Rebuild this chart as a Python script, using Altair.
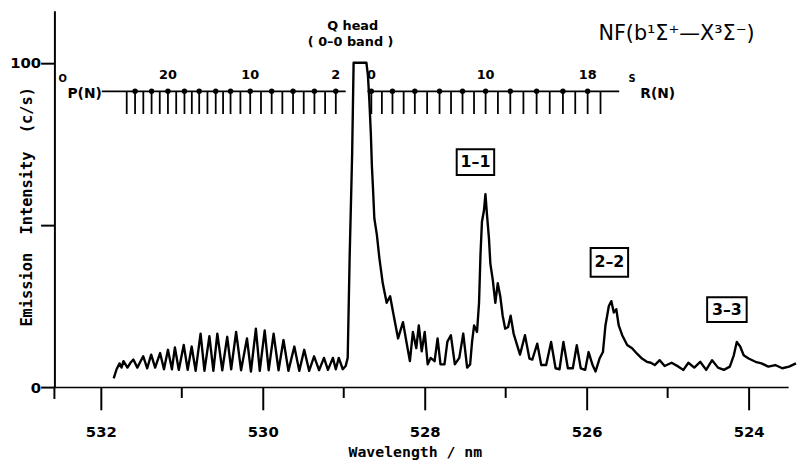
import altair as alt
import pandas as pd

# ---------------- spectrum (wavelength nm, intensity c/s) --------------
seg1_wl = [531.841, 531.805, 531.768, 531.744, 531.720, 531.671, 531.634, 531.598, 531.549, 531.512,
           531.476, 531.427, 531.378, 531.329, 531.268, 531.220, 531.171, 531.122, 531.085, 531.037,
           530.976, 530.927, 530.878, 530.829, 530.768, 530.720, 530.659, 530.610, 530.561, 530.500,
           530.439, 530.390, 530.329, 530.268, 530.195, 530.146, 530.085, 530.037, 529.976, 529.927,
           529.866, 529.805, 529.744, 529.683, 529.610, 529.549, 529.488, 529.427, 529.366, 529.305,
           529.244, 529.195, 529.134, 529.098, 529.061, 529.012, 528.976]
seg1_int = [2.7, 5.5, 7.3, 6.0, 8.0, 6.0, 7.5, 8.5, 6.0, 7.8,
            9.5, 5.8, 10.0, 6.0, 10.5, 5.5, 11.5, 5.5, 12.2, 5.3,
            13.0, 5.3, 12.5, 5.0, 16.5, 5.0, 15.7, 5.0, 16.5, 5.2,
            15.5, 5.5, 17.0, 5.2, 15.0, 4.8, 18.0, 5.0, 17.5, 5.2,
            16.5, 5.2, 14.5, 5.0, 12.5, 5.0, 11.5, 5.0, 9.5, 5.2,
            9.0, 5.3, 9.0, 5.5, 9.0, 5.5, 6.5]

seg2_wl = [528.951, 528.927, 528.896, 528.878, 528.720, 528.701, 528.683, 528.665, 528.652, 528.640,
           528.622, 528.591, 528.561, 528.518, 528.470, 528.427, 528.390, 528.329, 528.268, 528.226,
           528.183, 528.146, 528.104, 528.073, 528.037, 528.000, 527.963, 527.927, 527.878, 527.841,
           527.805, 527.756, 527.720, 527.677, 527.628, 527.573, 527.524, 527.476, 527.439, 527.415]
seg2_int = [9.0, 40, 72, 100, 100, 96, 88, 78, 68, 62,
            52, 47, 40, 32, 26, 28, 23, 15, 20, 14,
            8, 17, 12, 19, 11, 17, 7, 9, 8, 15,
            7, 7, 14, 16, 7, 9, 16.5, 6, 7, 14]

seg3_wl = [527.390, 527.354, 527.329, 527.311, 527.293, 527.268, 527.250, 527.232, 527.207, 527.189,
           527.159, 527.128, 527.098, 527.067, 527.037, 527.006, 526.970, 526.939, 526.902, 526.860,
           526.823, 526.762, 526.707, 526.671, 526.610, 526.561, 526.500, 526.439, 526.384, 526.335,
           526.287, 526.232, 526.171, 526.122, 526.073, 526.018, 525.976, 525.927, 525.890, 525.841]
seg3_int = [19, 17, 26, 41, 51, 54.5, 59.5, 53.5, 46, 38,
            33, 26, 32, 28, 22, 18, 18.5, 22, 16.5, 13,
            10, 16, 8.8, 8.5, 13.4, 6.8, 6.8, 13.9, 5.8, 5.5,
            13.9, 5.8, 5.8, 12.9, 5.8, 5.3, 10.8, 6.8, 4.8, 8.8]

seg4_wl = [525.799, 525.768, 525.726, 525.695, 525.665, 525.634, 525.604, 525.561, 525.500, 525.439,
           525.378, 525.317, 525.256, 525.207, 525.159, 525.098, 525.037, 524.951, 524.866, 524.805,
           524.744, 524.671, 524.598, 524.524, 524.451, 524.378, 524.305, 524.232, 524.183, 524.146,
           524.104, 524.061, 524.000, 523.915, 523.841, 523.756, 523.671, 523.585, 523.500, 523.415]
seg4_int = [10.8, 19, 25, 26.5, 23, 24, 19, 16, 13, 12,
            10.3, 8.8, 7.8, 7.5, 6.8, 8.3, 6.5, 7.5, 6.3, 5.3,
            7.5, 6.0, 7.8, 5.3, 8.3, 6.0, 5.3, 6.3, 9.8, 13.9,
            12.5, 9.8, 8.8, 7.8, 7.3, 6.3, 6.8, 5.8, 6.3, 7.3]

# ---------------- rotational line ladders --------------
p_N = list(range(2, 26))
p_wl = [529.098, 529.230, 529.362, 529.494, 529.626, 529.758, 529.890, 530.022, 530.155, 530.276,
        530.398, 530.490, 530.581, 530.683, 530.785, 530.876, 530.967, 531.069, 531.171, 531.272,
        531.373, 531.475, 531.577, 531.680]
r_N = list(range(0, 20))
r_wl = [528.659, 528.529, 528.398, 528.260, 528.122, 527.970, 527.817, 527.675, 527.533, 527.391,
        527.248, 527.096, 526.943, 526.781, 526.618, 526.456, 526.293, 526.141, 525.988, 525.829]
p_line = [531.988, 528.976]
r_line = [528.707, 525.598]
ladder_y, tick_bottom, num_y = 91.2, 84.2, 94.2
p_numbers = {20: "20", 10: "10", 2: "2"}
r_numbers = {0: "0", 10: "10", 18: "18"}

# ---------------- annotations --------------
band_labels = ["1\u20131", "2\u20132", "3\u20133"]
band_x1 = [527.605, 525.951, 524.512]
band_x2 = [527.142, 525.488, 524.024]
band_y1 = [73.3, 42.9, 27.7]
band_y2 = [65.4, 34.0, 20.1]

label_text = ["P(N)", "O", "R(N)", "S", "Q head", "( 0\u20130 band )"]
label_wl = [532.200, 532.470, 525.122, 525.440, 528.890, 528.915]
label_y = [90.4, 95.0, 90.2, 95.0, 111.2, 106.4]
label_size = [14, 10, 14, 10, 13, 13]
title_text = "NF(b\u00b9\u03a3\u207a\u2014X\u00b3\u03a3\u207b)"
title_pos = [524.890, 108.8]

major_ticks = [532, 530, 528, 526, 524]
minor_ticks = [531, 529, 527, 525]
x_domain = [532.573, 523.512]
y_domain = [0, 116]

wl = seg1_wl + seg2_wl + seg3_wl + seg4_wl
inten = seg1_int + seg2_int + seg3_int + seg4_int
spec = pd.DataFrame({"wl": wl, "I": inten, "idx": range(len(wl))})

X = alt.Scale(domain=x_domain, nice=False, zero=False)
Y = alt.Scale(domain=y_domain, nice=False, zero=False)
MONO = "DejaVu Sans Mono"
SANS = "DejaVu Sans"

x_axis = alt.Axis(values=major_ticks, format="d", tickSize=23, tickWidth=2, tickColor="black",
                  domainColor="black", domainWidth=1.5, labelFont=SANS, labelFontSize=15,
                  labelFontWeight="bold", labelColor="black", labelPadding=15, grid=False,
                  title="Wavelength / nm", titleFont=MONO, titleFontSize=15, titleFontWeight="bold",
                  titleColor="black", titleX=365, titleY=70, titleBaseline="alphabetic",
                  titleAlign="center")
y_axis = alt.Axis(values=[0, 50, 100], labelExpr="datum.value == 50 ? '' : datum.label",
                  tickSize=14, tickWidth=2, tickColor="black", domainColor="black", domainWidth=2,
                  labelFont=SANS, labelFontSize=15, labelFontWeight="bold", labelColor="black",
                  labelPadding=0, grid=False,
                  title="Emission\u00a0\u00a0Intensity\u00a0\u00a0(c/s)", titleFont=MONO,
                  titleFontSize=15.5, titleFontWeight="bold", titleColor="black",
                  titleX=-28, titleY=198, titleAngle=-90, titleAlign="center", titleBaseline="middle")

line = alt.Chart(spec).mark_line(color="black", strokeWidth=2.4, strokeJoin="round").encode(
    x=alt.X("wl:Q", scale=X, axis=x_axis),
    y=alt.Y("I:Q", scale=Y, axis=y_axis),
    order="idx:Q",
)

minor = alt.Chart(pd.DataFrame({"wl": minor_ticks})).mark_rule(color="black", strokeWidth=2).encode(
    x=alt.X("wl:Q", scale=X), y=alt.value(381), y2=alt.value(392))
yext = alt.Chart(pd.DataFrame({"wl": [x_domain[0]]})).mark_rule(color="black", strokeWidth=2).encode(
    x=alt.X("wl:Q", scale=X), y=alt.value(381), y2=alt.value(393))

# ladders
lines_df = pd.DataFrame({"a": [p_line[0], r_line[0]], "b": [p_line[1], r_line[1]], "y": [ladder_y] * 2})
ladder_lines = alt.Chart(lines_df).mark_rule(color="black", strokeWidth=1.8).encode(
    x=alt.X("a:Q", scale=X), x2="b:Q", y=alt.Y("y:Q", scale=Y))
n_all = len(p_wl) + len(r_wl)
ticks_df = pd.DataFrame({"wl": p_wl + r_wl, "N": p_N + r_N,
                         "y": [ladder_y] * n_all, "y2": [tick_bottom] * n_all})
ladder_ticks = alt.Chart(ticks_df).mark_rule(color="black", strokeWidth=1.8).encode(
    x=alt.X("wl:Q", scale=X), y=alt.Y("y:Q", scale=Y), y2="y2:Q")
dots_df = ticks_df[ticks_df["N"] % 2 == 0]
ladder_dots = alt.Chart(dots_df).mark_circle(color="black", size=30, opacity=1).encode(
    x=alt.X("wl:Q", scale=X), y=alt.Y("y:Q", scale=Y))
num_rows = [{"wl": p_wl[p_N.index(n)], "t": t} for n, t in p_numbers.items()] + \
           [{"wl": r_wl[r_N.index(n)], "t": t} for n, t in r_numbers.items()]
num_df = pd.DataFrame(num_rows)
num_df["y"] = num_y
ladder_nums = alt.Chart(num_df).mark_text(font=SANS, fontSize=13, fontWeight="bold", color="black",
                                          baseline="bottom").encode(
    x=alt.X("wl:Q", scale=X), y=alt.Y("y:Q", scale=Y), text="t:N")

# text annotations
texts = pd.DataFrame({"wl": label_wl, "y": label_y, "t": label_text, "fs": label_size})
ann_text = alt.Chart(texts).mark_text(font=SANS, color="black", baseline="middle",
                                      fontWeight="bold").encode(
    x=alt.X("wl:Q", scale=X), y=alt.Y("y:Q", scale=Y), text="t:N",
    size=alt.Size("fs:Q", scale=None, legend=None))
title_df = pd.DataFrame({"wl": [title_pos[0]], "y": [title_pos[1]], "t": [title_text]})
title_mark = alt.Chart(title_df).mark_text(font=SANS, fontSize=21, color="black",
                                           baseline="middle").encode(
    x=alt.X("wl:Q", scale=X), y=alt.Y("y:Q", scale=Y), text="t:N")

boxes = pd.DataFrame({"t": band_labels, "x1": band_x1, "x2": band_x2, "y1": band_y1, "y2": band_y2})
boxes["xc"] = (boxes["x1"] + boxes["x2"]) / 2
boxes["yc"] = (boxes["y1"] + boxes["y2"]) / 2
box_rect = alt.Chart(boxes).mark_rect(fillOpacity=0, stroke="black", strokeWidth=2).encode(
    x=alt.X("x1:Q", scale=X), x2="x2:Q", y=alt.Y("y1:Q", scale=Y), y2="y2:Q")
box_text = alt.Chart(boxes).mark_text(font=SANS, fontSize=16, fontWeight="bold", color="black",
                                      baseline="middle").encode(
    x=alt.X("xc:Q", scale=X), y=alt.Y("yc:Q", scale=Y), text="t:N")

chart = alt.layer(line, minor, yext, ladder_lines, ladder_ticks, ladder_dots, ladder_nums,
                  ann_text, title_mark, box_rect, box_text).properties(
    width=743, height=381,
    autosize=alt.AutoSizeParams(type="none"),
    padding={"left": 47, "top": 0, "right": 10, "bottom": 75},
    background="white",
).configure_view(stroke=None)

chart.save("out.html", embed_options={"renderer": "svg", "actions": False})
